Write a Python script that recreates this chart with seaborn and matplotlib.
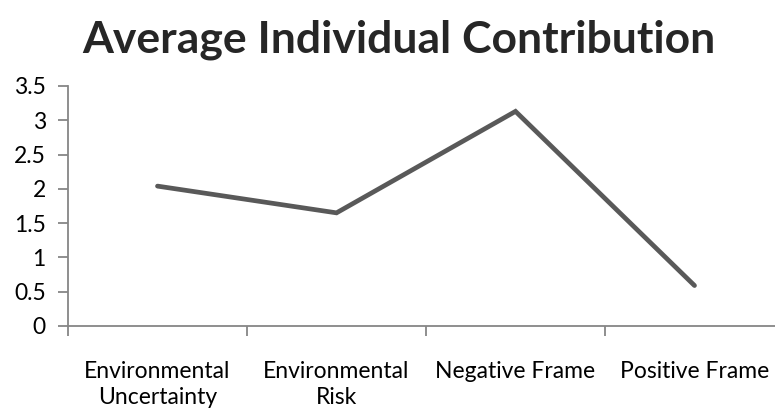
import matplotlib
matplotlib.use("Agg")
import matplotlib.pyplot as plt
import seaborn as sns
import pandas as pd
from matplotlib.ticker import FixedLocator

categories = ["Environmental\nUncertainty", "Environmental\nRisk", "Negative Frame", "Positive Frame"]
contribution = [2.04, 1.65, 3.13, 0.59]
y_ticks = [0, 0.5, 1, 1.5, 2, 2.5, 3, 3.5]
y_tick_labels = ["0", "0.5", "1", "1.5", "2", "2.5", "3", "3.5"]

sns.set_style("white")
plt.rcParams["font.family"] = ["Lato", "DejaVu Sans"]

df = pd.DataFrame({"condition": categories, "contribution": contribution})

W, H = 775, 417
fig = plt.figure(figsize=(W / 100, H / 100), dpi=100)
ax = fig.add_axes([68 / W, (H - 326) / H, 716 / W, (326 - 86) / H])

sns.lineplot(data=df, x="condition", y="contribution", ax=ax, color="#595959",
             linewidth=3.4, solid_capstyle="round", solid_joinstyle="miter", sort=False)

axis_grey = "#868686"
ax.set_xlim(-0.5, len(categories) - 0.5)
ax.set_ylim(0, 3.5)
ax.set_yticks(y_ticks)
ax.set_yticklabels(y_tick_labels)
ax.set_xticks(range(len(categories)))
ax.set_xticklabels(categories, linespacing=1.3)
ax.xaxis.set_minor_locator(FixedLocator([i - 0.5 for i in range(len(categories) + 1)]))

ax.tick_params(axis="x", which="major", length=0, pad=25, labelsize=16.5, colors="black")
ax.tick_params(axis="x", which="minor", length=7, width=1.3, color=axis_grey, direction="out", bottom=True)
ax.tick_params(axis="y", length=7, width=1.3, color=axis_grey, direction="out", left=True,
               pad=9, labelsize=16.5, labelcolor="black")

for side in ["top", "right"]:
    ax.spines[side].set_visible(False)
for side in ["left", "bottom"]:
    ax.spines[side].set_color(axis_grey)
    ax.spines[side].set_linewidth(1.3)

ax.set_xlabel("")
ax.set_ylabel("")

fig.text(399 / W, 1 - 40 / H, "Average Individual Contribution", ha="center", va="center",
         fontsize=32, fontweight="bold")

fig.savefig("out.png", dpi=100)
